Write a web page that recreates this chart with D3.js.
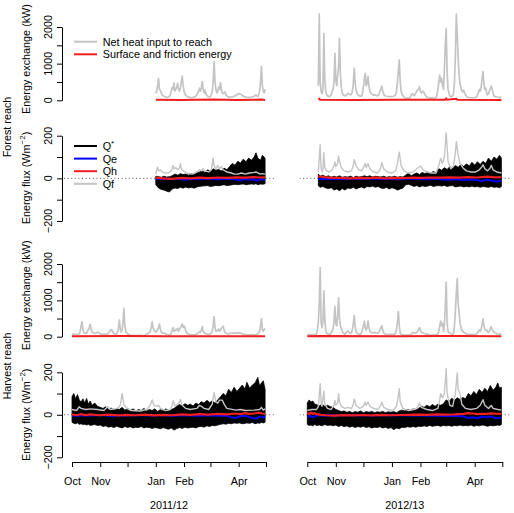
<!DOCTYPE html>
<html><head><meta charset="utf-8">
<script src="https://cdn.jsdelivr.net/npm/d3@7"></script>
<style>
body{margin:0;background:#fff}
svg{display:block}
text{font-family:"Liberation Sans",Arial,Helvetica,sans-serif;fill:#000}
</style>
</head><body>
<svg id="c" width="514" height="513"></svg>
<script>
// ---------------- DATA ----------------
// day = days since 1 October of each season
const seasonLabels = ["2011/12", "2012/13"];
const monthTickLabels = ["Oct", "Nov", "", "Jan", "Feb", "", "Apr", ""];
const kwTicks = [0, 500, 1000, 1500, 2000];
const kwLabels = [0, 1000, 2000];
const fluxTicks = [-200, -100, 0, 100, 200];
const fluxLabels = [-200, 0, 200];
const reachLabels = ["Forest reach", "Harvest reach"];
const legendKw = ["Net heat input to reach", "Surface and friction energy"];
const legendFlux = ["Q*", "Qe", "Qh", "Qf"];

// Net heat input to reach (kW): [day, value]
const forestHeat1112 = [[92,190],[93,250],[94,400],[95,600],[96,300],[97,280],[98,200],[99,150],[101,110],[103,90],[105,80],[107,110],[108,150],[109,250],[110,350],[111,300],[112,470],[113,250],[114,300],[115,350],[116,470],[117,300],[118,250],[119,350],[120,500],[121,660],[122,400],[123,250],[124,180],[125,130],[127,100],[129,80],[131,70],[133,80],[135,100],[136,120],[137,150],[138,200],[139,250],[140,330],[141,250],[142,350],[143,510],[144,300],[145,200],[146,280],[147,180],[148,130],[150,90],[152,100],[153,150],[154,250],[155,500],[156,1050],[157,500],[158,300],[159,200],[160,250],[161,360],[162,300],[163,480],[164,300],[165,200],[166,180],[167,200],[168,230],[169,150],[171,100],[173,80],[175,90],[177,100],[179,120],[181,150],[183,180],[185,170],[187,130],[189,100],[191,85],[194,80],[197,90],[199,100],[200,110],[201,130],[202,150],[203,120],[204,100],[205,150],[206,250],[207,500],[208,920],[209,400],[210,250],[211,200],[212,300]];
const forestHeat1213 = [[12,400],[13,2350],[14,500],[15,250],[16,180],[17,300],[18,1830],[19,600],[20,250],[21,150],[22,120],[24,100],[25,120],[26,150],[27,250],[28,280],[29,500],[30,1280],[31,555],[32,400],[33,700],[34,900],[35,1690],[36,700],[37,350],[38,200],[39,150],[41,120],[43,150],[44,190],[45,180],[46,160],[47,150],[48,170],[49,250],[50,450],[51,870],[52,500],[53,280],[54,200],[55,150],[57,120],[59,110],[60,200],[61,350],[62,600],[63,735],[64,400],[65,450],[66,660],[67,400],[68,250],[69,200],[70,170],[72,140],[73,150],[75,130],[77,130],[78,170],[79,250],[80,300],[81,390],[82,250],[83,170],[84,130],[86,110],[90,100],[94,110],[96,150],[97,250],[98,500],[99,800],[100,1100],[101,500],[102,250],[103,160],[104,120],[106,70],[110,60],[112,70],[113,150],[114,180],[115,160],[116,120],[117,150],[118,200],[119,250],[120,280],[121,300],[122,370],[123,250],[124,200],[125,230],[126,250],[127,200],[128,150],[130,80],[135,60],[140,70],[141,150],[142,300],[143,500],[144,690],[145,500],[146,600],[147,400],[148,300],[149,800],[150,1500],[151,1960],[152,800],[153,300],[154,200],[155,120],[157,100],[158,120],[159,200],[160,500],[161,1200],[162,2350],[163,1800],[164,1190],[165,700],[166,450],[167,350],[168,250],[169,230],[170,280],[171,200],[172,150],[174,80],[178,70],[182,70],[184,90],[185,150],[186,200],[187,300],[188,250],[189,350],[190,600],[191,780],[192,450],[193,300],[194,330],[195,200],[196,150],[197,180],[198,250],[199,330],[200,390],[201,300],[202,200],[203,120],[205,90],[207,90],[209,70],[211,90]];
const harvestHeat1112 = [[0,60],[2,70],[4,60],[6,65],[8,80],[9,150],[10,300],[11,410],[12,200],[13,120],[14,100],[15,90],[16,100],[17,150],[18,200],[19,250],[20,340],[21,200],[22,130],[23,110],[25,90],[27,110],[28,120],[29,120],[30,100],[31,80],[33,60],[36,70],[38,60],[39,80],[40,100],[41,130],[42,170],[43,200],[44,180],[45,120],[46,90],[48,70],[49,80],[50,120],[51,250],[52,460],[53,200],[54,130],[55,200],[56,400],[57,780],[58,300],[59,150],[60,100],[61,80],[63,50],[65,30],[68,40],[71,30],[74,40],[77,30],[80,40],[81,50],[83,80],[84,100],[85,120],[86,150],[87,250],[88,410],[89,250],[90,180],[91,150],[92,130],[93,150],[94,200],[95,250],[96,350],[97,200],[98,120],[99,100],[101,100],[102,90],[104,60],[107,50],[108,60],[109,100],[110,180],[111,250],[112,150],[113,170],[114,200],[115,180],[116,230],[117,150],[118,200],[119,250],[120,300],[121,350],[122,250],[123,300],[124,250],[125,150],[126,100],[127,90],[129,60],[132,50],[135,60],[137,70],[138,90],[139,110],[140,140],[141,120],[142,180],[143,275],[144,150],[145,110],[147,80],[150,60],[152,80],[153,100],[154,150],[155,300],[156,550],[157,250],[158,150],[159,150],[160,180],[161,210],[162,150],[163,180],[164,230],[165,260],[166,290],[167,180],[168,120],[169,100],[171,80],[174,90],[177,100],[180,100],[182,110],[184,100],[186,90],[188,70],[190,55],[194,50],[198,55],[202,50],[204,80],[205,120],[206,150],[207,300],[208,500],[209,200],[210,150],[211,200],[212,230]];
const harvestHeat1213 = [[0,50],[2,60],[4,50],[6,55],[8,50],[10,70],[11,200],[12,400],[13,900],[14,1900],[15,400],[16,250],[17,400],[18,1260],[19,500],[20,200],[21,90],[23,70],[25,60],[26,100],[27,150],[28,230],[29,400],[30,825],[31,350],[32,300],[33,600],[34,1070],[35,500],[36,300],[37,230],[38,150],[39,100],[41,70],[42,100],[43,140],[44,160],[45,140],[46,100],[47,90],[48,100],[49,200],[50,350],[51,580],[52,300],[53,150],[54,100],[55,80],[57,50],[58,80],[59,120],[60,200],[61,300],[62,430],[63,250],[64,180],[65,250],[66,430],[67,250],[68,150],[69,130],[71,100],[73,120],[75,100],[77,100],[78,130],[79,180],[80,250],[81,300],[82,200],[83,110],[84,80],[86,60],[89,60],[92,65],[95,60],[96,100],[97,200],[98,400],[99,690],[100,300],[101,100],[102,70],[104,45],[108,45],[112,50],[113,60],[114,100],[115,120],[116,100],[117,90],[118,110],[119,120],[120,150],[121,200],[122,250],[123,180],[124,120],[126,100],[128,80],[130,70],[133,45],[137,45],[140,50],[141,60],[142,80],[143,150],[144,300],[145,430],[146,300],[147,370],[148,150],[149,300],[150,800],[151,1500],[152,400],[153,150],[154,120],[156,80],[158,60],[159,100],[160,300],[161,700],[162,1200],[163,1600],[164,900],[165,690],[166,400],[167,250],[168,180],[169,150],[170,120],[172,90],[174,60],[178,65],[182,60],[184,80],[185,100],[186,150],[187,180],[188,150],[189,200],[190,350],[191,490],[192,300],[193,200],[194,180],[195,180],[196,130],[197,120],[198,150],[199,220],[200,275],[201,200],[202,150],[204,110],[206,75],[208,65],[210,70],[211,70]];

// Surface and friction energy (kW): [day, value]
const forestSurf1112 = [[92,15],[120,10],[156,20],[180,10],[208,20],[212,10]];
const forestSurf1213 = [[12,20],[13,40],[14,15],[50,10],[100,15],[150,15],[151,50],[152,15],[162,40],[163,15],[211,10]];
const harvestSurf1112 = [[0,10],[57,20],[100,10],[156,15],[212,10]];
const harvestSurf1213 = [[0,10],[14,20],[100,10],[151,20],[163,20],[211,10]];

// Q* daily range (W m-2): [day, max, min]
const forestQstar1112 = [[92,10,-30],[95,8,-45],[98,5,-52],[101,10,-55],[104,6,-60],[107,8,-64],[110,12,-50],[113,20,-45],[116,15,-48],[119,22,-42],[122,18,-46],[125,20,-40],[128,15,-45],[131,22,-42],[134,18,-46],[137,25,-40],[140,30,-38],[143,35,-36],[146,28,-35],[149,40,-34],[152,32,-38],[155,45,-36],[158,38,-33],[161,42,-35],[164,35,-32],[167,48,-30],[170,40,-34],[173,55,-32],[176,70,-30],[179,62,-28],[182,80,-30],[185,72,-28],[188,90,-26],[191,78,-30],[194,95,-28],[197,85,-26],[200,100,-28],[202,120,-25],[204,95,-30],[207,85,-26],[209,108,-28],[212,95,-25]];
const forestQstar1213 = [[12,20,-35],[14,10,-42],[17,15,-38],[20,8,-45],[23,12,-48],[26,5,-44],[29,10,-55],[32,6,-50],[35,12,-58],[38,5,-48],[41,8,-55],[44,6,-45],[47,10,-48],[50,4,-42],[53,10,-50],[56,6,-44],[59,8,-40],[62,12,-46],[65,8,-38],[68,12,-40],[71,6,-36],[74,10,-42],[77,8,-38],[80,6,-45],[83,10,-48],[86,5,-42],[89,8,-50],[92,6,-44],[95,10,-48],[98,5,-55],[101,8,-50],[104,6,-45],[107,15,-30],[110,25,-28],[113,12,-32],[116,20,-38],[119,25,-34],[122,18,-40],[125,28,-35],[128,22,-38],[131,30,-36],[134,24,-32],[137,32,-38],[140,26,-35],[143,45,-34],[146,38,-36],[149,50,-33],[152,42,-38],[155,55,-35],[158,45,-34],[161,60,-40],[164,52,-38],[167,65,-36],[170,55,-40],[173,68,-38],[176,58,-40],[179,75,-36],[182,62,-40],[185,78,-38],[188,65,-42],[191,80,-38],[194,70,-40],[197,95,-42],[200,80,-38],[203,100,-42],[206,90,-40],[209,108,-44],[211,95,-38]];
const harvestQstar1112 = [[0,85,-35],[2,100,-40],[4,75,-42],[6,95,-38],[8,70,-45],[10,60,-42],[12,75,-46],[14,55,-44],[16,77,-48],[18,50,-45],[20,65,-50],[22,45,-48],[25,55,-46],[28,40,-50],[31,35,-48],[34,30,-55],[37,38,-52],[40,25,-58],[43,32,-55],[46,22,-60],[49,30,-54],[52,25,-58],[55,35,-62],[58,22,-55],[61,30,-60],[64,20,-56],[67,28,-62],[70,18,-58],[73,25,-60],[76,20,-55],[79,30,-62],[82,18,-58],[85,25,-60],[88,20,-64],[91,28,-60],[94,15,-62],[97,25,-66],[100,18,-60],[103,28,-64],[106,20,-68],[109,25,-62],[112,30,-72],[115,40,-65],[118,48,-60],[121,42,-64],[124,52,-58],[127,45,-62],[130,50,-60],[133,42,-58],[136,55,-62],[139,48,-56],[142,62,-55],[145,55,-58],[148,68,-52],[151,58,-55],[154,65,-50],[157,55,-52],[160,70,-48],[163,85,-45],[166,100,-42],[169,90,-44],[172,120,-40],[175,105,-42],[178,130,-38],[181,110,-40],[184,125,-38],[187,140,-42],[190,120,-40],[192,153,-38],[195,125,-40],[198,140,-36],[201,150,-42],[204,176,-38],[206,135,-40],[208,150,-36],[210,160,-38],[212,120,-35]];
const harvestQstar1213 = [[0,55,-45],[2,70,-50],[4,60,-48],[6,65,-52],[8,50,-46],[10,48,-50],[13,42,-48],[16,50,-52],[19,40,-46],[22,45,-50],[25,38,-48],[28,35,-52],[31,25,-48],[34,20,-55],[37,15,-50],[40,18,-56],[43,12,-52],[46,16,-58],[49,10,-54],[52,15,-60],[55,12,-55],[58,18,-58],[61,10,-54],[64,15,-60],[67,12,-56],[70,16,-62],[73,10,-58],[76,14,-60],[79,12,-56],[82,16,-62],[85,10,-58],[88,14,-64],[91,12,-60],[94,15,-70],[97,10,-62],[100,18,-66],[103,22,-58],[106,18,-60],[109,25,-56],[112,20,-58],[115,28,-55],[118,22,-58],[121,30,-54],[124,40,-55],[127,35,-52],[130,45,-55],[133,38,-50],[136,48,-54],[139,40,-52],[142,50,-50],[145,45,-54],[148,52,-50],[151,70,-52],[154,62,-50],[157,78,-54],[160,68,-50],[163,80,-52],[166,72,-48],[169,82,-52],[172,75,-50],[175,100,-52],[178,90,-48],[181,110,-54],[184,95,-50],[187,120,-52],[190,105,-48],[193,125,-50],[196,110,-54],[199,138,-50],[202,115,-52],[205,130,-50],[207,150,-48],[209,125,-50],[211,130,-46]];

// Qe (W m-2): [day, value]
const forestQe1112 = [[92,-2],[100,-1],[110,-3],[120,-2],[125,-8],[128,-2],[140,-3],[150,-1],[160,-4],[170,-2],[180,-5],[185,-10],[188,-3],[195,-6],[200,-4],[203,-12],[206,-4],[212,-6]];
const forestQe1213 = [[12,-2],[20,-4],[30,-2],[40,-4],[50,-1],[60,-3],[70,-1],[80,-3],[90,-2],[100,-4],[110,-1],[120,-3],[130,-4],[140,-2],[150,-6],[160,-4],[170,-8],[180,-5],[190,-12],[195,-6],[200,-10],[205,-15],[211,-12]];
const harvestQe1112 = [[0,-4],[10,-2],[20,-3],[30,-1],[40,-3],[45,-8],[48,-2],[60,-3],[70,-1],[80,-2],[90,-3],[100,-1],[110,-4],[120,-2],[130,-3],[140,-4],[150,-2],[160,-5],[170,-4],[175,-12],[180,-15],[185,-6],[190,-5],[195,-12],[200,-16],[203,-18],[206,-8],[210,-12],[212,-6]];
const harvestQe1213 = [[0,-10],[3,-5],[6,-12],[10,-3],[20,-2],[30,-3],[40,-1],[50,-2],[60,-1],[70,-3],[80,-1],[90,-2],[100,-1],[110,-3],[120,-2],[130,-4],[140,-3],[150,-6],[160,-4],[170,-8],[175,-15],[180,-12],[185,-16],[190,-8],[195,-10],[200,-8],[205,-16],[208,-15],[211,-12]];

// Qh (W m-2): [day, value]
const forestQh1112 = [[92,3],[100,0],[110,-2],[120,2],[130,0],[140,3],[150,1],[160,4],[170,2],[180,5],[190,3],[200,6],[206,4],[212,5]];
const forestQh1213 = [[12,10],[18,6],[25,3],[35,2],[45,0],[55,2],[65,1],[75,3],[85,0],[95,2],[105,1],[115,3],[125,2],[135,4],[145,3],[155,5],[165,3],[175,6],[185,4],[195,8],[205,5],[211,6]];
const harvestQh1112 = [[0,2],[5,-2],[10,3],[15,-1],[20,2],[30,-2],[40,1],[50,-3],[60,0],[70,-2],[80,1],[90,-3],[100,0],[110,-2],[120,2],[130,0],[140,3],[150,1],[160,4],[170,2],[180,6],[185,3],[190,8],[195,4],[200,6],[205,10],[210,5],[212,4]];
const harvestQh1213 = [[0,8],[2,4],[4,10],[6,5],[8,8],[10,3],[15,0],[20,-2],[30,-4],[40,-2],[50,-3],[60,-1],[70,-3],[80,0],[90,-2],[100,-1],[110,0],[120,1],[130,0],[140,2],[150,1],[160,2],[170,4],[175,8],[180,6],[185,3],[190,5],[195,4],[200,7],[205,5],[211,4]];

// Qf (W m-2): [day, value]
const forestQf1112 = [[92,20],[93,40],[94,53],[95,35],[97,40],[99,30],[102,25],[106,25],[109,35],[111,60],[112,45],[114,50],[116,40],[118,50],[119,69],[120,45],[122,35],[126,25],[132,20],[137,30],[140,40],[142,35],[144,45],[146,35],[150,30],[153,40],[155,95],[156,60],[158,45],[160,60],[162,45],[164,55],[166,40],[170,30],[175,25],[178,20],[182,20],[186,25],[190,20],[195,25],[200,28],[202,30],[204,25],[207,20],[209,22],[212,20]];
const forestQf1213 = [[12,30],[14,158],[15,50],[16,30],[17,40],[18,120],[19,50],[21,35],[24,30],[27,40],[29,60],[30,77],[31,55],[33,70],[34,105],[35,80],[37,50],[40,35],[44,30],[48,35],[50,60],[51,88],[53,60],[56,40],[59,35],[61,50],[63,69],[64,50],[66,69],[68,45],[72,30],[76,25],[79,40],[81,73],[83,45],[87,30],[92,25],[96,35],[98,70],[100,123],[102,60],[105,35],[110,25],[115,30],[119,45],[123,58],[126,40],[130,30],[135,25],[140,25],[143,60],[145,95],[147,70],[149,100],[151,214],[153,80],[156,45],[159,60],[161,120],[162,173],[164,110],[166,70],[169,50],[173,35],[178,30],[183,30],[187,40],[190,55],[191,64],[193,45],[196,35],[199,50],[200,61],[202,40],[206,30],[211,25]];
const harvestQf1112 = [[0,25],[5,20],[8,38],[10,30],[15,25],[20,28],[28,25],[35,20],[39,38],[42,25],[50,30],[53,45],[55,100],[57,50],[60,30],[65,20],[75,18],[82,25],[86,45],[88,70],[90,45],[94,40],[95,45],[97,30],[103,20],[108,25],[110,45],[111,66],[113,40],[116,50],[118,60],[119,72],[121,45],[125,30],[130,25],[137,30],[140,45],[142,40],[145,30],[150,25],[154,50],[156,104],[158,60],[160,55],[162,69],[165,69],[167,50],[170,30],[180,22],[185,25],[190,20],[200,22],[206,25],[208,35],[210,22],[212,28]];
const harvestQf1213 = [[0,20],[5,25],[10,25],[12,40],[14,146],[15,60],[16,40],[18,112],[19,50],[22,30],[26,25],[29,45],[30,68],[31,45],[33,55],[34,99],[35,60],[37,40],[41,30],[44,35],[48,30],[50,50],[51,75],[53,45],[57,30],[61,40],[63,60],[64,45],[66,60],[68,40],[72,30],[77,25],[80,45],[81,60],[83,35],[88,25],[93,20],[97,40],[99,90],[100,123],[101,60],[104,30],[110,20],[116,25],[120,35],[122,55],[124,35],[130,25],[136,20],[142,30],[144,70],[145,99],[147,80],[149,100],[151,217],[152,100],[155,45],[158,40],[161,100],[163,197],[164,120],[166,99],[168,50],[172,30],[178,25],[184,30],[188,45],[191,71],[193,45],[197,30],[200,44],[202,30],[207,25],[211,22]];

// ---------------- LAYOUT ----------------
const svg = d3.select("#c");
const FS = 10.8;
const COL = {gray:"#c4c4c4", red:"#f01e1e", blue:"#0000ff", black:"#000"};
const DAY = 864e5;

const cols = [
  {start: Date.UTC(2011,9,1), end: Date.UTC(2012,4,1), r:[72,266], clip:[64,274]},
  {start: Date.UTC(2012,9,1), end: Date.UTC(2013,4,1), r:[307.3,502.3], clip:[299.5,510]}
];
cols.forEach(c => {
  c.x = d3.scaleUtc().domain([new Date(c.start), new Date(c.end)]).range(c.r);
  c.dx = d => c.x(new Date(c.start + d*DAY));
});

const rows = [
  {type:"kw",   y: d3.scaleLinear().domain([0,2000]).range([100.3,27]),  clip:[6,106],   title:59},
  {type:"flux", y: d3.scaleLinear().domain([-200,200]).range([221,135.7]), clip:[130,226], title:178},
  {type:"kw",   y: d3.scaleLinear().domain([0,2000]).range([336.7,264]), clip:[242,343], title:295.4},
  {type:"flux", y: d3.scaleLinear().domain([-200,200]).range([457.3,372.3]), clip:[366,463], title:414.8}
];

const panelData = {
  "0-0": {heat: forestHeat1112, surf: forestSurf1112},
  "0-1": {heat: forestHeat1213, surf: forestSurf1213},
  "1-0": {qs: forestQstar1112, qe: forestQe1112, qh: forestQh1112, qf: forestQf1112},
  "1-1": {qs: forestQstar1213, qe: forestQe1213, qh: forestQh1213, qf: forestQf1213},
  "2-0": {heat: harvestHeat1112, surf: harvestSurf1112},
  "2-1": {heat: harvestHeat1213, surf: harvestSurf1213},
  "3-0": {qs: harvestQstar1112, qe: harvestQe1112, qh: harvestQh1112, qf: harvestQf1112},
  "3-1": {qs: harvestQstar1213, qe: harvestQe1213, qh: harvestQh1213, qf: harvestQf1213}
};

const defs = svg.append("defs");

rows.forEach((row, ri) => {
  cols.forEach((col, ci) => {
    const id = `clip${ri}${ci}`;
    defs.append("clipPath").attr("id", id).append("rect")
      .attr("x", col.clip[0]).attr("y", row.clip[0])
      .attr("width", col.clip[1]-col.clip[0]).attr("height", row.clip[1]-row.clip[0]);
    const g = svg.append("g").attr("clip-path", `url(#${id})`);
    const d = panelData[`${ri}-${ci}`];
    const y = row.y;
    const line = d3.line().x(p => col.dx(p[0])).y(p => y(p[1]));
    if (row.type === "kw") {
      g.append("path").datum(d.heat).attr("d", line)
        .attr("fill","none").attr("stroke",COL.gray).attr("stroke-width",1.7).attr("stroke-linejoin","round");
      g.append("path").datum(d.surf).attr("d", line)
        .attr("fill","none").attr("stroke",COL.red).attr("stroke-width",2);
    } else {
      g.append("line").attr("x1",col.clip[0]).attr("x2",col.clip[1])
        .attr("y1",y(0)).attr("y2",y(0))
        .attr("stroke","#555").attr("stroke-width",1).attr("stroke-dasharray","1,2.6");
      const area = d3.area().x(p => col.dx(p[0])).y0(p => y(p[2])).y1(p => y(p[1]));
      g.append("path").datum(d.qs).attr("d", area)
        .attr("fill",COL.black).attr("stroke",COL.black).attr("stroke-width",0.8);
      g.append("path").datum(d.qe).attr("d", line)
        .attr("fill","none").attr("stroke",COL.blue).attr("stroke-width",2);
      g.append("path").datum(d.qh).attr("d", line)
        .attr("fill","none").attr("stroke",COL.red).attr("stroke-width",2.2);
      g.append("path").datum(d.qf).attr("d", line)
        .attr("fill","none").attr("stroke",COL.gray).attr("stroke-width",1.4).attr("stroke-linejoin","round");
    }
  });

  // Y axis (left column only)
  const ticks = row.type === "kw" ? kwTicks : fluxTicks;
  const labels = row.type === "kw" ? kwLabels : fluxLabels;
  const ax = svg.append("g").attr("transform","translate(62,0)")
    .call(d3.axisLeft(row.y).tickValues(ticks).tickSize(5).tickSizeOuter(0).tickFormat(""));
  ax.select(".domain").attr("stroke","#000");
  ax.selectAll(".tick line").attr("stroke","#000");
  labels.forEach(v => {
    svg.append("text").attr("transform",`translate(51.5,${row.y(v)}) rotate(-90)`)
      .attr("text-anchor","middle").attr("font-size",FS)
      .text(v < 0 ? "\u2212" + Math.abs(v) : v);
  });

  // Y axis title
  const t = svg.append("text").attr("transform",`translate(29.5,${row.title}) rotate(-90)`)
    .attr("text-anchor","middle").attr("font-size",FS);
  if (row.type === "kw") t.text("Energy exchange (kW)");
  else {
    t.append("tspan").text("Energy flux (Wm");
    t.append("tspan").attr("font-size",8).attr("dy",-4.5).text("\u22122");
    t.append("tspan").attr("dy",4.5).text(")");
  }
});

// Reach labels
[127, 366].forEach((cy, i) => {
  svg.append("text").attr("transform",`translate(11,${cy}) rotate(-90)`)
    .attr("text-anchor","middle").attr("font-size",FS).text(reachLabels[i]);
});

// Legends
const lg1 = [{c:COL.gray, y:41.7}, {c:COL.red, y:54.3}];
lg1.forEach((l, i) => {
  svg.append("line").attr("x1",74).attr("x2",97).attr("y1",l.y).attr("y2",l.y)
    .attr("stroke",l.c).attr("stroke-width",2);
  svg.append("text").attr("x",102.7).attr("y",l.y+3.9).attr("font-size",FS).text(legendKw[i]);
});
const lg2 = [{c:COL.black, y:146}, {c:COL.blue, y:158.6}, {c:COL.red, y:171.2}, {c:COL.gray, y:183.8}];
lg2.forEach((l, i) => {
  svg.append("line").attr("x1",74).attr("x2",97).attr("y1",l.y).attr("y2",l.y)
    .attr("stroke",l.c).attr("stroke-width",2);
  const t = svg.append("text").attr("x",102.7).attr("y",l.y+3.9).attr("font-size",FS);
  if (legendFlux[i] === "Q*") {
    t.append("tspan").text("Q");
    t.append("tspan").attr("font-size",8).attr("dy",-3.5).text("*");
  } else t.text(legendFlux[i]);
});

// Bottom axes
cols.forEach((col, ci) => {
  const months = d3.utcMonths(new Date(col.start), new Date(col.end + DAY));
  const ax = svg.append("g").attr("transform","translate(0,462)")
    .call(d3.axisBottom(col.x).tickValues(months).tickSize(5).tickSizeOuter(0).tickPadding(10.3)
      .tickFormat((d, i) => monthTickLabels[i]));
  ax.selectAll("text").attr("font-size",FS).attr("font-family",'"Liberation Sans",Arial,sans-serif').attr("fill","#000");
  ax.select(".domain").attr("stroke","#000");
  ax.selectAll(".tick line").attr("stroke","#000");
  svg.append("text").attr("x", (col.r[0]+col.r[1])/2).attr("y",509)
    .attr("text-anchor","middle").attr("font-size",FS).text(seasonLabels[ci]);
});
</script>
</body></html>
